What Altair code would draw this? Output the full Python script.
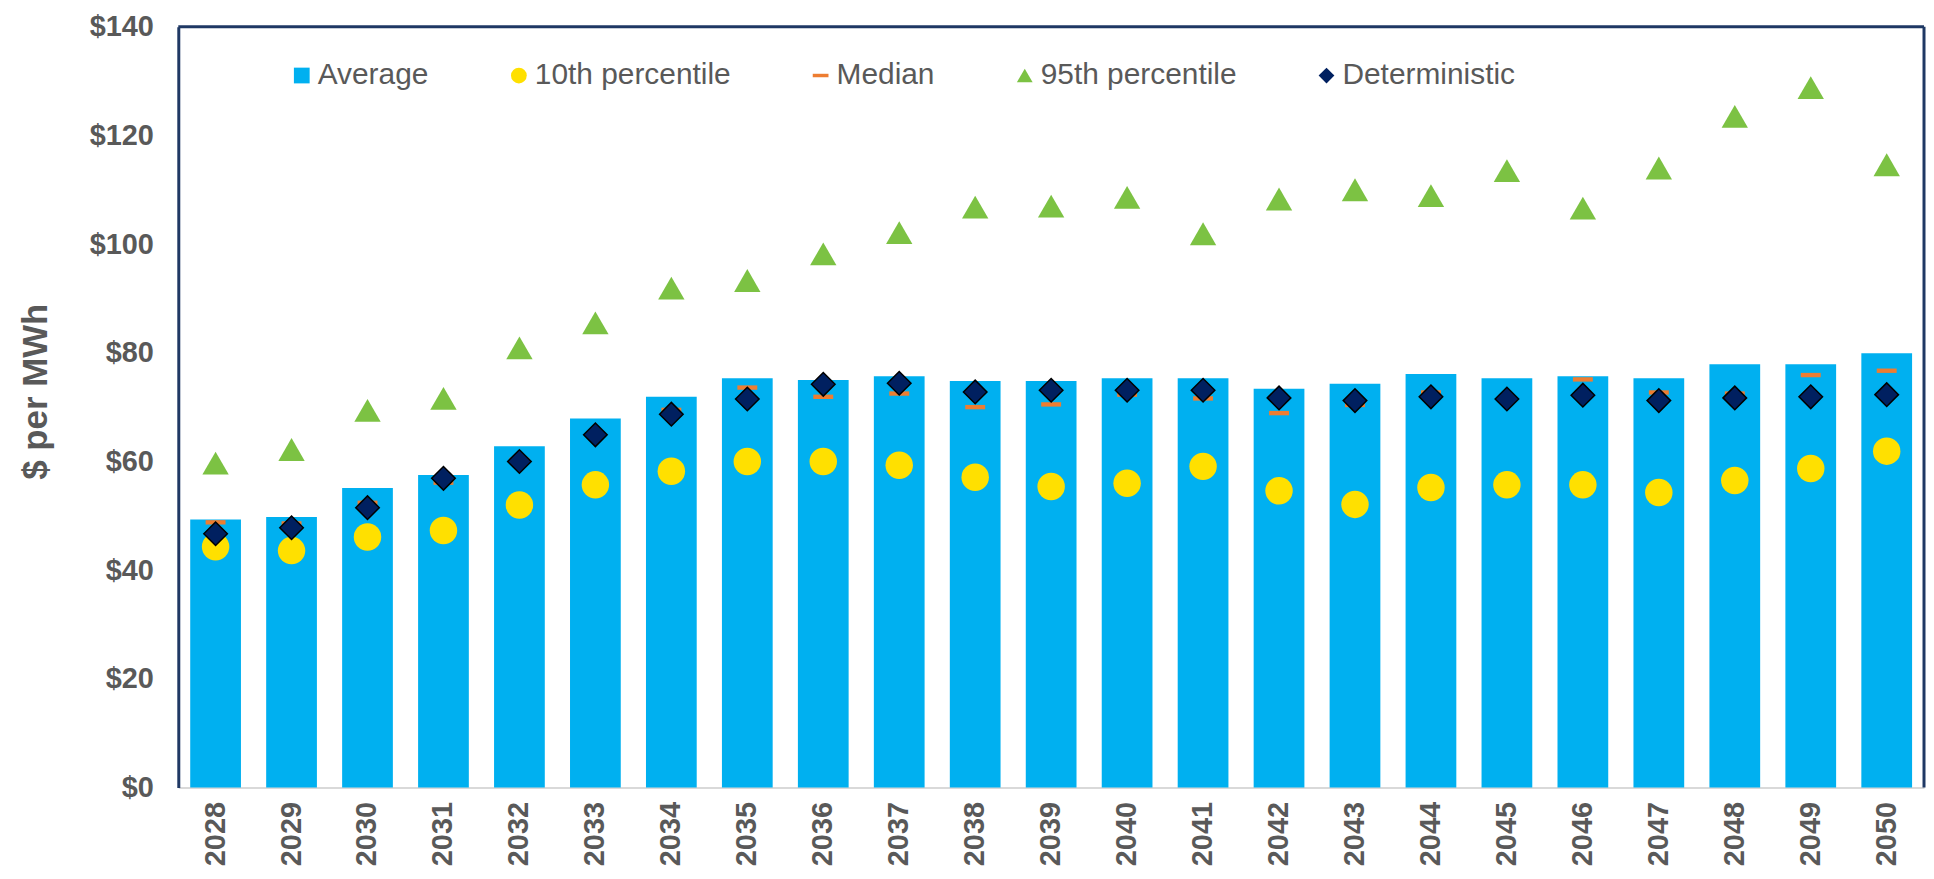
import altair as alt
import pandas as pd

years = [str(y) for y in range(2028, 2051)]
average = [49.3, 49.8, 55.1, 57.5, 62.8, 67.9, 71.9, 75.3, 75.0, 75.7, 74.8, 74.8,
           75.3, 75.3, 73.4, 74.3, 76.1, 75.3, 75.7, 75.3, 77.9, 77.9, 79.9]
p10 = [44.3, 43.6, 46.1, 47.3, 52.0, 55.7, 58.2, 60.0, 60.0, 59.3, 57.1, 55.4,
       56.0, 59.1, 54.6, 52.1, 55.2, 55.7, 55.7, 54.3, 56.5, 58.7, 61.9]
median = [48.8, 48.6, 52.4, 56.1, 60.3, 64.9, 69.5, 73.6, 71.9, 72.5, 70.0, 70.5,
          72.3, 71.6, 68.9, 70.4, 72.7, 71.5, 75.1, 72.7, 72.5, 75.9, 76.7]
p95 = [60.4, 62.9, 70.1, 72.3, 81.6, 86.2, 92.6, 94.0, 98.9, 102.8, 107.5, 107.7,
       109.3, 102.6, 109.0, 110.7, 109.6, 114.2, 107.3, 114.7, 124.2, 129.5, 115.3]
deterministic = [46.7, 47.8, 51.5, 56.9, 60.0, 64.9, 68.7, 71.5, 74.2, 74.4, 72.8, 73.1,
                 73.1, 73.1, 71.7, 71.2, 71.9, 71.5, 72.2, 71.2, 71.7, 71.9, 72.3]

SERIES = ["Average", "10th percentile", "Median", "95th percentile", "Deterministic"]
COLORS = ["#00B0F0", "#FFE000", "#ED7D31", "#7CC243", "#002060"]
SHAPES = ["square", "circle", "M-1,-0.22L1,-0.22L1,0.22L-1,0.22Z", "triangle-up", "diamond"]

rows = []
for name, vals in zip(SERIES, [average, p10, median, p95, deterministic]):
    for yr, v in zip(years, vals):
        rows.append({"year": yr, "series": name, "value": v})
df = pd.DataFrame(rows)

W, H = 1753, 764
FONT = "Liberation Sans"
TXT = "#595959"
FRAME = "#1F3864"

legend = alt.Legend(
    title=None, orient="none", direction="horizontal", columns=5,
    legendX=109, legendY=34, columnPadding=75, labelOffset=1, labelLimit=0,
    symbolSize=250, labelFontSize=30, labelColor=TXT, labelFont=FONT,
    padding=0, symbolStrokeWidth=0,
)

x = alt.X("year:O",
          scale=alt.Scale(paddingInner=0.332, paddingOuter=0.157),
          axis=alt.Axis(title=None, labelAngle=-90, ticks=False, domainColor="#D9D9D9",
                        domainWidth=2, labelPadding=14, labelFontSize=29,
                        labelFontWeight="bold", labelColor=TXT, labelFont=FONT))
y = alt.Y("value:Q",
          scale=alt.Scale(domain=[0, 140], nice=False),
          axis=alt.Axis(values=list(range(0, 141, 20)), labelExpr="'$' + datum.value",
                        title="$ per MWh", titleFontSize=35, titleFontWeight="bold",
                        titleColor=TXT, titleFont=FONT, titlePadding=36, titleY=366,
                        ticks=False, grid=False, domainColor=FRAME, domainWidth=3,
                        labelPadding=25, labelFontSize=29, labelFontWeight="bold",
                        labelColor=TXT, labelFont=FONT))
color = alt.Color("series:N", scale=alt.Scale(domain=SERIES, range=COLORS), legend=legend)
shape = alt.Shape("series:N", scale=alt.Scale(domain=SERIES, range=SHAPES), legend=legend)

base = alt.Chart(df)

bars = base.transform_filter(alt.datum.series == "Average").mark_bar().encode(
    x=x, y=y, color=color, shape=shape)
circles = base.transform_filter(alt.datum.series == "10th percentile").mark_point(
    filled=True, size=760, opacity=1).encode(x=x, y=y, color=color, shape=shape)
medians = base.transform_filter(alt.datum.series == "Median").mark_point(
    filled=True, size=400, opacity=1).encode(x=x, y=y, color=color, shape=shape)
triangles = base.transform_filter(alt.datum.series == "95th percentile").mark_point(
    filled=True, size=700, opacity=1, yOffset=3.8).encode(x=x, y=y, color=color, shape=shape)
diamonds = base.transform_filter(alt.datum.series == "Deterministic").mark_point(
    filled=True, size=560, opacity=1, stroke="#000000", strokeWidth=1.5).encode(
    x=x, y=y, color=color, shape=shape)

one = pd.DataFrame({"f": [0]})
top_rule = alt.Chart(one).mark_rule(color=FRAME, strokeWidth=3).encode(
    x=alt.value(0), x2=alt.value(W), y=alt.value(0))
right_rule = alt.Chart(one).mark_rule(color=FRAME, strokeWidth=3).encode(
    x=alt.value(W), y=alt.value(0), y2=alt.value(H))

chart = alt.layer(bars, circles, medians, triangles, diamonds, top_rule, right_rule).properties(
    width=W, height=H,
    autosize=alt.AutoSizeParams(type="none"),
    padding={"left": 171, "top": 17, "right": 2, "bottom": 80},
    background="white",
).configure_view(stroke=None)

chart.save("out.html", embed_options={"renderer": "svg", "actions": False})
